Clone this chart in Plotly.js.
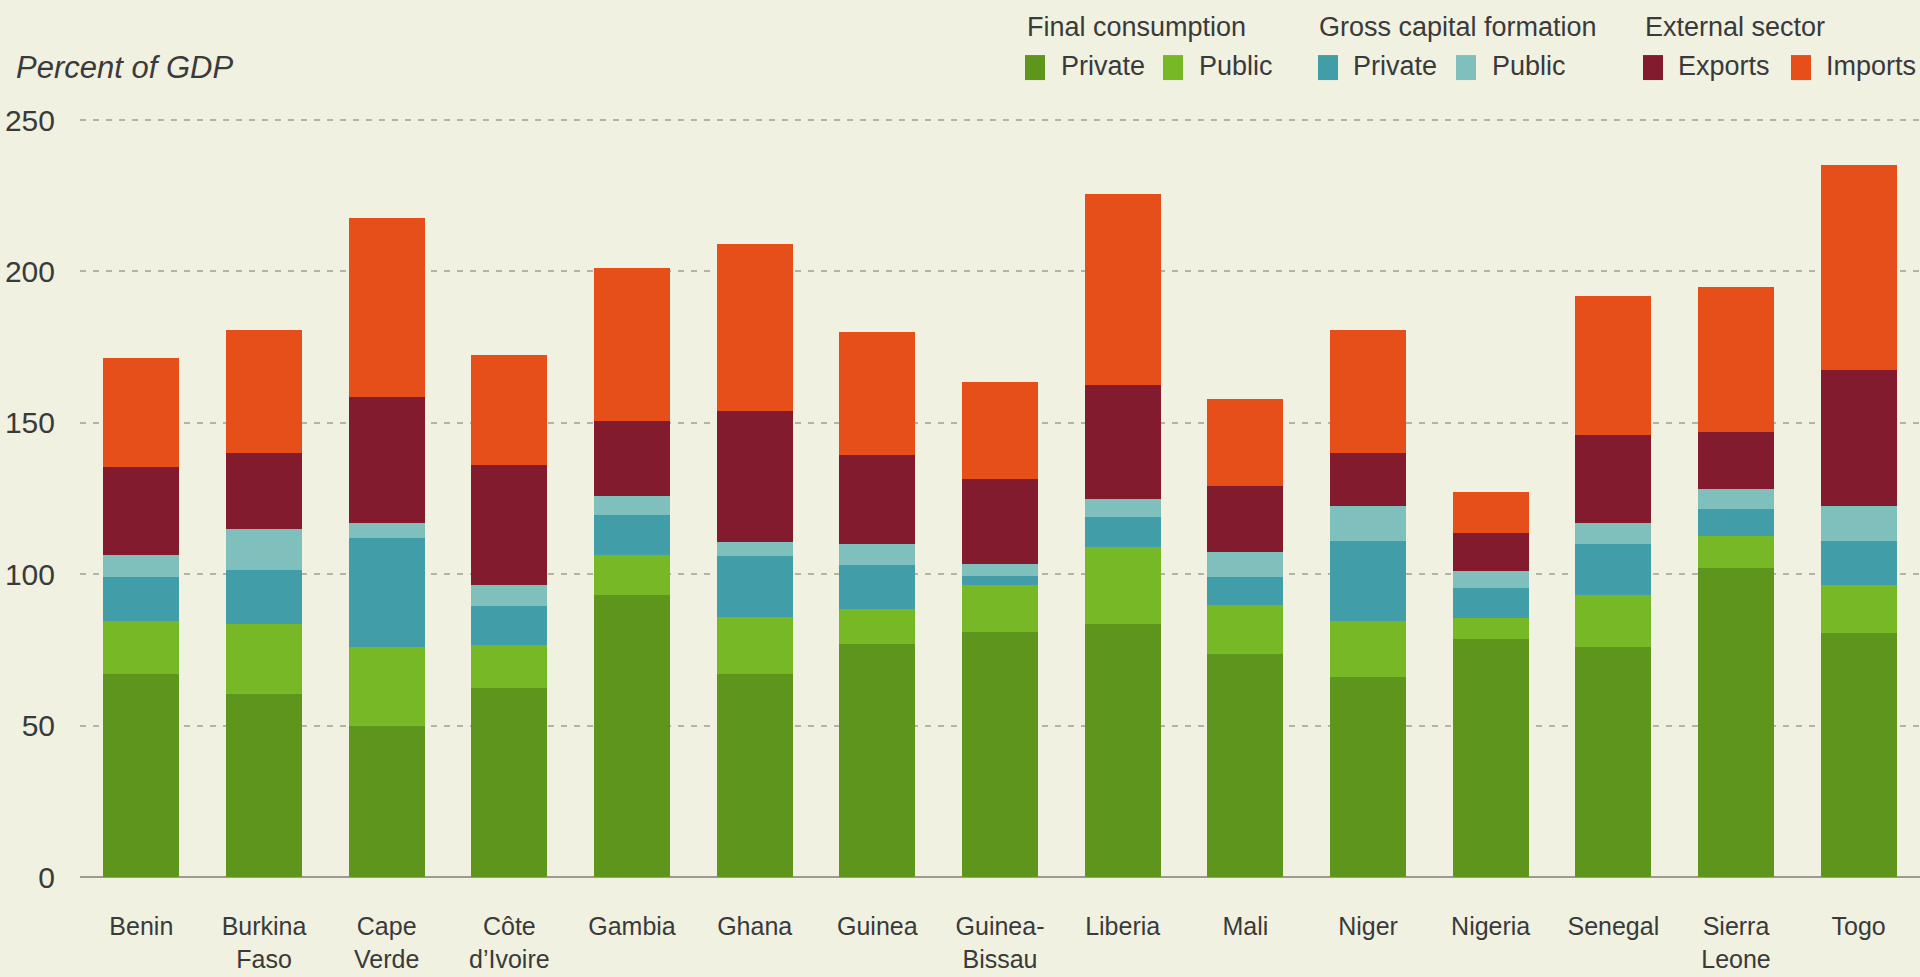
<!DOCTYPE html>
<html><head><meta charset="utf-8">
<script src="https://cdn.plot.ly/plotly-3.0.1.min.js"></script>
<style>html,body{margin:0;padding:0;background:#f0f1e0;overflow:hidden;}</style>
</head><body>
<div id="chart" style="width:1920px;height:977px;"></div>
<script>
// Categories (tick labels)
const countries = ["Benin", "Burkina<br>Faso", "Cape<br>Verde", "Côte<br>d’Ivoire", "Gambia", "Ghana", "Guinea", "Guinea-<br>Bissau", "Liberia", "Mali", "Niger", "Nigeria", "Senegal", "Sierra<br>Leone", "Togo"];

// Series values (percent of GDP)
const fcPrivate  = [67, 60.5, 50, 62.5, 93, 67, 77, 81, 83.5, 73.5, 66, 78.5, 76, 102, 80.5];
const fcPublic   = [17.5, 23, 26, 14, 13.5, 19, 11.5, 15.5, 25.5, 16.5, 18.5, 7, 17, 10.5, 16];
const gcfPrivate = [14.5, 18, 36, 13, 13, 20, 14.5, 3, 10, 9, 26.5, 10, 17, 9, 14.5];
const gcfPublic  = [7.5, 13.5, 5, 7, 6.5, 4.5, 7, 4, 6, 8.5, 11.5, 5.5, 7, 6.5, 11.5];
const exportsV   = [29, 25, 41.5, 39.5, 24.5, 43.5, 29.5, 28, 37.5, 21.5, 17.5, 12.5, 29, 19, 45];
const importsV   = [36, 40.5, 59, 36.5, 50.5, 55, 40.5, 32, 63, 29, 40.5, 13.5, 46, 48, 67.5];

// Y tick values
const yTicks = [0, 50, 100, 150, 200, 250];

// Legend
const groupTitles = ["Final consumption", "Gross capital formation", "External sector"];
const seriesNames = ["Private", "Public", "Private", "Public", "Exports", "Imports"];
const colors = ["#5e951d", "#77b826", "#419ea8", "#7fc0bc", "#821b2e", "#e64f19"];
const seriesValues = [fcPrivate, fcPublic, gcfPrivate, gcfPublic, exportsV, importsV];

const FONT = "Liberation Sans, Arial, Helvetica, sans-serif";
const TXT = "#3a3a3a";

const traces = seriesValues.map((vals, i) => ({
  type: "bar",
  x: countries,
  y: vals,
  name: seriesNames[i],
  marker: {color: colors[i], line: {width: 0}},
  showlegend: false,
  hoverinfo: "y+name"
}));

// plot area in pixels: x 80..1920; y-range [0,252] with 0 at y=877 and 250 at y=120
const L = 80, R = 1920, B = 877;
const unitPx = (877 - 120) / 250;
const YMAX = 252;
const T = B - YMAX * unitPx;
const px = x => (x - L) / (R - L);
const py = y => (B - y) / (B - T);

const titleX = [1025, 1317, 1643];
const sqX = [1025, 1163, 1318, 1456, 1643, 1791];
const txtX = [1059, 1197, 1351, 1490, 1676, 1824];

const annotations = [];
const shapes = [];
groupTitles.forEach((t, i) => annotations.push({
  text: t, xref: "paper", yref: "paper", x: px(titleX[i]), y: py(27), xanchor: "left", yanchor: "middle",
  showarrow: false, font: {family: FONT, size: 27, color: TXT}
}));
seriesNames.forEach((n, i) => {
  annotations.push({
    text: n, xref: "paper", yref: "paper", x: px(txtX[i]), y: py(66), xanchor: "left", yanchor: "middle",
    showarrow: false, font: {family: FONT, size: 27, color: TXT}
  });
  shapes.push({
    type: "rect", xref: "paper", yref: "paper", x0: px(sqX[i]), x1: px(sqX[i] + 20), y0: py(80), y1: py(55),
    fillcolor: colors[i], line: {width: 0}
  });
});
annotations.push({
  text: "Percent of GDP", xref: "paper", yref: "paper", x: px(14), y: py(67), xanchor: "left", yanchor: "middle",
  showarrow: false, font: {family: FONT, size: 31, style: "italic", color: TXT}
});

const layout = {
  width: 1920, height: 977,
  margin: {l: L, r: 1920 - R, t: T, b: 977 - B, pad: 0},
  paper_bgcolor: "#f0f1e0", plot_bgcolor: "#f0f1e0",
  barmode: "stack", bargap: 0.38,
  showlegend: false,
  xaxis: {
    type: "category", range: [-0.5, 14.5], showgrid: false, zeroline: false, showline: false,
    ticks: "", ticklabelstandoff: 32,
    tickfont: {family: FONT, size: 25, color: TXT}
  },
  yaxis: {
    range: [0, YMAX], tickvals: yTicks, ticktext: yTicks.map(String),
    showgrid: true, gridcolor: "#b3b3a8", gridwidth: 2, griddash: "6px,7px",
    zeroline: true, zerolinecolor: "#9b9b92", zerolinewidth: 2,
    showline: false, ticks: "", ticklabelstandoff: 24,
    tickfont: {family: FONT, size: 30, color: TXT}
  },
  annotations: annotations,
  shapes: shapes,
  font: {family: FONT}
};

Plotly.newPlot("chart", traces, layout, {displayModeBar: false, staticPlot: true});
</script>
</body></html>
